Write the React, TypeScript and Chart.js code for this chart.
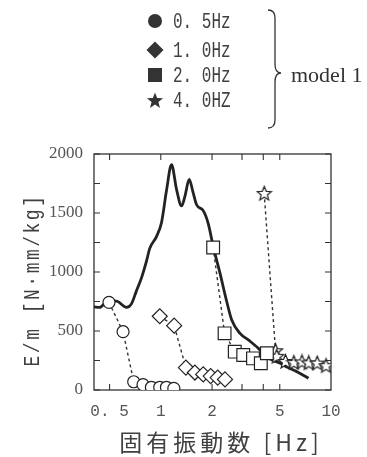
import React, { useEffect, useRef } from 'react';
import { Chart, registerables } from 'chart.js';
Chart.register(...registerables);

// Solid curve (model response)
const curveX = [0.405, 0.437, 0.494, 0.558, 0.628, 0.672, 0.719, 0.77, 0.823, 0.861, 0.943, 1.01, 1.08, 1.156, 1.237, 1.324, 1.385, 1.468, 1.55, 1.623, 1.775, 1.9, 2.033, 2.227, 2.439, 2.61, 2.92, 3.3, 3.745, 4.2, 4.57, 5.03, 5.6, 6.31, 7.37];
const curveY = [705, 700, 762, 750, 700, 730, 840, 950, 1090, 1200, 1300, 1420, 1690, 1910, 1700, 1560, 1640, 1785, 1670, 1570, 1520, 1410, 1215, 990, 750, 593, 480, 420, 353, 282, 250, 226, 190, 155, 99];

// 0.5Hz (circles)
const circleX = [0.496, 0.6, 0.693, 0.786, 0.881, 0.986, 1.08, 1.193];
const circleY = [743, 494, 70, 45, 23, 23, 23, 14];
// 1.0Hz (diamonds)
const diamondX = [0.986, 1.198, 1.404, 1.586, 1.775, 1.963, 2.159, 2.383];
const diamondY = [625, 545, 190, 148, 132, 118, 105, 90];
// 2.0Hz (squares)
const squareX = [2.03, 2.37, 2.72, 3.05, 3.48, 3.87, 4.2];
const squareY = [1208, 480, 325, 296, 268, 226, 311];
// 4.0Hz (stars)
const starX = [4.05, 4.72, 4.8, 5.4, 6.05, 6.75, 7.4, 8.3, 9.35];
const starY = [1666, 333, 285, 242, 232, 238, 230, 228, 206];

const legendLabels = ['0. 5Hz', '1. 0Hz', '2. 0Hz', '4. 0HZ'];
const groupLabel = 'model 1';
const xTitle = '固有振動数 [Hz]';
const yTitle = 'E/m [N·mm/kg]';
const xTickValues = [0.5, 1, 2, 3, 4, 5, 10];
const xTickLabels: [number, string][] = [[0.5, '0. 5'], [1, '1'], [2, '2'], [5, '5'], [10, '10']];
const yTickStep = 250;
const yLabelStep = 500;

const INK = '#222';
const TXT = '#404040';

function starPath(ctx: CanvasRenderingContext2D, cx: number, cy: number, R: number, r: number) {
  ctx.beginPath();
  for (let i = 0; i < 10; i++) {
    const a = -Math.PI / 2 + (i * Math.PI) / 5;
    const rr = i % 2 === 0 ? R : r;
    const x = cx + rr * Math.cos(a);
    const y = cy + rr * Math.sin(a);
    if (i === 0) ctx.moveTo(x, y);
    else ctx.lineTo(x, y);
  }
  ctx.closePath();
}

function makeStarImage() {
  const c = document.createElement('canvas');
  c.width = 17;
  c.height = 17;
  const g = c.getContext('2d')!;
  starPath(g, 8.5, 9, 7.5, 3.3);
  g.fillStyle = '#fff';
  g.fill();
  g.lineWidth = 1.2;
  g.strokeStyle = INK;
  g.stroke();
  return c;
}

const toPts = (xs: number[], ys: number[]) => xs.map((x, i) => ({ x, y: ys[i] }));

const decorPlugin = {
  id: 'decor',
  beforeDatasetsDraw(chart: any) {
    const { ctx, chartArea: a, scales } = chart;
    ctx.save();
    ctx.strokeStyle = '#333';
    ctx.lineWidth = 1.3;
    ctx.strokeRect(a.left, a.top, a.right - a.left, a.bottom - a.top);
    const tl = 6;
    ctx.lineWidth = 1.1;
    ctx.beginPath();
    for (let v = 0; v <= 2000; v += yTickStep) {
      const y = scales.y.getPixelForValue(v);
      ctx.moveTo(a.left, y);
      ctx.lineTo(a.left + tl, y);
      ctx.moveTo(a.right, y);
      ctx.lineTo(a.right - tl, y);
    }
    for (const v of xTickValues) {
      if (v >= 10) continue;
      const x = scales.x.getPixelForValue(v);
      ctx.moveTo(x, a.bottom);
      ctx.lineTo(x, a.bottom - tl);
      ctx.moveTo(x, a.top);
      ctx.lineTo(x, a.top + tl);
    }
    ctx.stroke();
    ctx.restore();
  },
  afterDraw(chart: any) {
    const { ctx } = chart;
    ctx.save();
    // Legend markers
    ctx.fillStyle = '#333';
    const mx = 155;
    const rows = [21, 50, 75, 100];
    ctx.beginPath();
    ctx.arc(mx, rows[0], 7, 0, Math.PI * 2);
    ctx.fill();
    ctx.beginPath();
    ctx.moveTo(mx, rows[1] - 8.5);
    ctx.lineTo(mx + 8.5, rows[1]);
    ctx.lineTo(mx, rows[1] + 8.5);
    ctx.lineTo(mx - 8.5, rows[1]);
    ctx.closePath();
    ctx.fill();
    ctx.fillRect(mx - 7, rows[2] - 7, 14, 14);
    starPath(ctx, mx, rows[3] + 1, 8.5, 3.6);
    ctx.fill();
    // Legend labels
    ctx.fillStyle = TXT;
    ctx.font = '16px "Liberation Mono"';
    ctx.textAlign = 'left';
    ctx.textBaseline = 'middle';
    legendLabels.forEach((t, i) => {
      ctx.save();
      ctx.translate(173, rows[i] + 1);
      ctx.scale(1, 1.4);
      ctx.fillText(t, 0, 0);
      ctx.restore();
    });
    // Brace
    ctx.strokeStyle = '#333';
    ctx.lineWidth = 1.3;
    ctx.beginPath();
    ctx.moveTo(268, 10);
    ctx.quadraticCurveTo(275, 10, 275, 18);
    ctx.lineTo(275, 64);
    ctx.quadraticCurveTo(275, 73, 281, 73);
    ctx.quadraticCurveTo(275, 73, 275, 82);
    ctx.lineTo(275, 120);
    ctx.quadraticCurveTo(275, 128, 268, 128);
    ctx.stroke();
    ctx.fillStyle = '#333';
    ctx.font = '22px "Liberation Serif"';
    ctx.textBaseline = 'alphabetic';
    ctx.fillText(groupLabel, 291, 82);
    // Axis titles
    ctx.fillStyle = TXT;
    ctx.textAlign = 'center';
    ctx.textBaseline = 'middle';
    ctx.font = '23px "Noto Sans CJK JP"';
    (ctx as any).letterSpacing = '4px';
    ctx.fillText(xTitle, 221, 442);
    ctx.save();
    ctx.translate(33, 280);
    ctx.rotate(-Math.PI / 2);
    ctx.font = '18px "Liberation Mono"';
    (ctx as any).letterSpacing = '2.5px';
    ctx.scale(1, 1.25);
    ctx.fillText(yTitle, 0, 0);
    ctx.restore();
    ctx.restore();
  },
};

export default function App() {
  const ref = useRef<HTMLCanvasElement | null>(null);
  useEffect(() => {
    if (!ref.current) return;
    const star = makeStarImage();
    const markerDs = (label: string, xs: number[], ys: number[], style: any, radius: number, order: number) => ({
      label,
      data: toPts(xs, ys),
      borderColor: '#333',
      borderWidth: 1.4,
      borderDash: [3, 3],
      pointStyle: style,
      pointRadius: radius,
      pointBackgroundColor: '#fff',
      pointBorderColor: INK,
      pointBorderWidth: 1.2,
      showLine: true,
      fill: false,
      tension: 0,
      order,
    });
    const chart = new Chart(ref.current, {
      type: 'scatter',
      data: {
        datasets: [
          markerDs('0.5Hz', circleX, circleY, 'circle', 6, 1),
          markerDs('1.0Hz', diamondX, diamondY, 'rectRot', 7.5, 2),
          markerDs('2.0Hz', squareX, squareY, 'rect', 9, 3),
          markerDs('4.0HZ', starX, starY, star, 8, 4),
          {
            label: 'model',
            data: toPts(curveX, curveY),
            borderColor: INK,
            borderWidth: 2.8,
            pointRadius: 0,
            showLine: true,
            fill: false,
            cubicInterpolationMode: 'monotone',
            order: 10,
          } as any,
        ],
      },
      options: {
        responsive: false,
        animation: false,
        events: [],
        layout: { padding: { top: 154, right: 36, bottom: 0, left: 0 } },
        plugins: { legend: { display: false }, tooltip: { enabled: false } },
        scales: {
          x: {
            type: 'logarithmic',
            min: 0.405,
            max: 10,
            grid: { display: false, drawTicks: false },
            border: { display: false },
            ticks: {
              autoSkip: false,
              maxRotation: 0,
              padding: 12,
              color: '#555',
              font: { family: '"Liberation Mono"', size: 16 },
              callback: (v: any) => {
                const f = xTickLabels.find((p) => Math.abs(p[0] - Number(v)) < 1e-6);
                return f ? f[1] : '';
              },
            },
            afterBuildTicks: (s: any) => {
              s.ticks = xTickValues.map((v) => ({ value: v }));
            },
            afterFit: (s: any) => {
              s.height = 67;
            },
          },
          y: {
            min: 0,
            max: 2000,
            grid: { display: false, drawTicks: false },
            border: { display: false },
            ticks: {
              stepSize: yTickStep,
              padding: 11,
              color: '#555',
              font: { family: '"Liberation Serif"', size: 17 },
              callback: (v: any) => (Number(v) % yLabelStep === 0 ? String(v) : ''),
            },
            afterFit: (s: any) => {
              s.width = 94;
            },
          },
        },
      } as any,
      plugins: [decorPlugin],
    });
    return () => chart.destroy();
  }, []);
  return (
    <div style={{ position: 'fixed', left: 0, top: 0, width: 367, height: 457, background: '#fff' }}>
      <canvas ref={ref} width={367} height={457} style={{ display: 'block' }} />
    </div>
  );
}
